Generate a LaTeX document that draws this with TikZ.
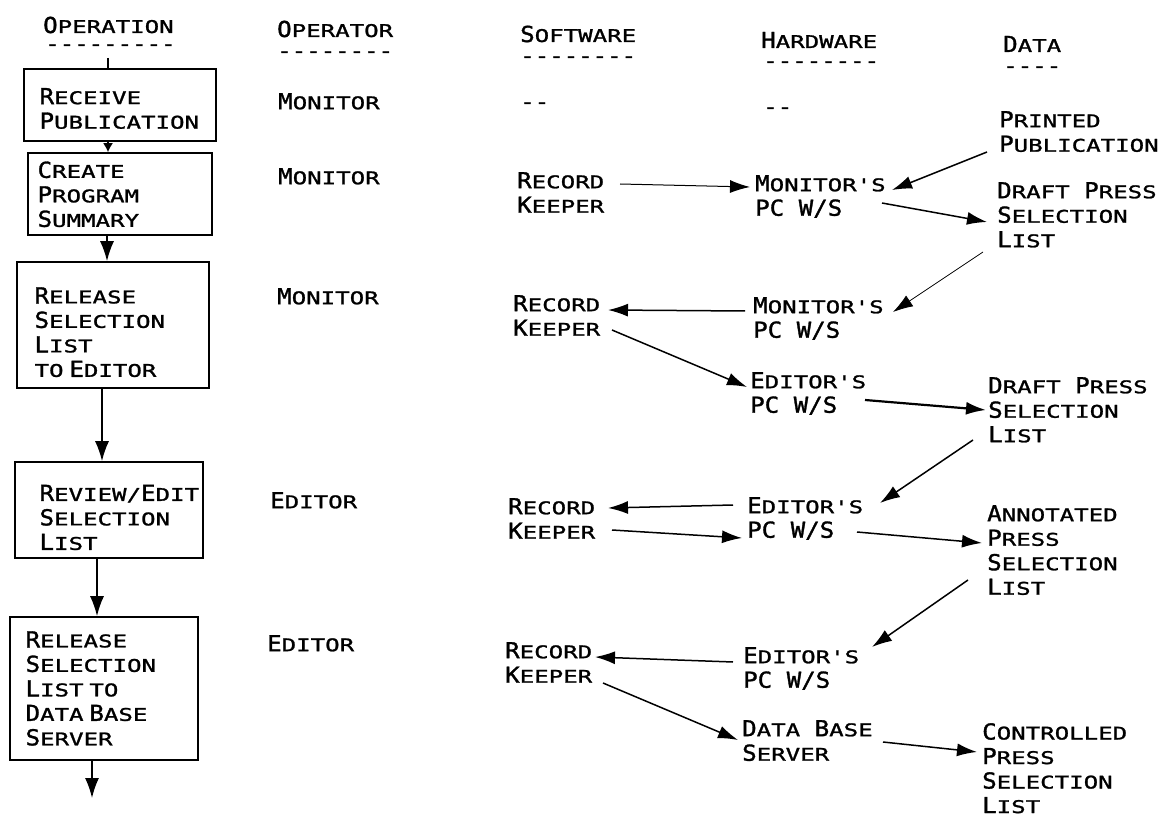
\documentclass[tikz,border=0pt]{standalone}
\usepackage{fontspec}
\usetikzlibrary{arrows.meta}
\newfontfamily\plotsm[FakeStretch=1.376,FakeBold=1.4]{DejaVu Sans Mono}
\newfontfamily\plotbg[FakeStretch=1.095,FakeBold=1.4]{DejaVu Sans Mono}
\newcommand\bc[1]{{\plotbg\fontsize{22}{24.5}\selectfont #1}}
\newcommand\txtfont{\plotsm\fontsize{17.5}{24.5}\selectfont}
\tikzset{
  txt/.style={inner sep=0pt, anchor=north west, align=left, font=\txtfont},
  hdr/.style={inner sep=0pt, anchor=base west, font=\txtfont},
  opbox/.style={draw, line width=1.6pt, align=left, font=\txtfont, inner ysep=0pt},
  flow/.style={line width=1.6pt, -{Latex[length=20pt,width=14pt]}},
  flowsmall/.style={line width=1.6pt, -{Latex[length=9pt,width=10pt]}},
  link/.style={line width=1.5pt, -{Latex[length=20pt,width=13pt]}},
  thinlink/.style={link, line width=1pt},
  hairlink/.style={link, line width=0.8pt},
  thicklink/.style={link, line width=2.2pt},
}
\begin{document}
\begin{tikzpicture}[x=1pt,y=-1pt]
\path[use as bounding box] (0,0) rectangle (1165,818);

% headers
\node[hdr] (hOpn) at (43,33) {\bc{O}PERATION};
\node[hdr] (dOpn) at (45,50) {-{}-{}-{}-{}-{}-{}-{}-{}-};
\node[hdr] (hOpr) at (277,37) {\bc{O}PERATOR};
\node[hdr] (dOpr) at (277,57) {-{}-{}-{}-{}-{}-{}-{}-};
\node[hdr] (hSw) at (520,42) {\bc{S}OFTWARE};
\node[hdr] (dSw) at (520,62) {-{}-{}-{}-{}-{}-{}-{}-};
\node[hdr] (hHw) at (761,48) {\bc{H}ARDWARE};
\node[hdr] (dHw) at (763,67) {-{}-{}-{}-{}-{}-{}-{}-};
\node[hdr] (hDt) at (1003,52) {\bc{D}ATA};
\node[hdr] (dDt) at (1003,72) {-{}-{}-{}-};

% operation boxes
\node[opbox, minimum width=192pt, minimum height=72pt, inner xsep=15.6pt, text width=160.8pt] (b1) at (120,105)
  {\baselineskip=23pt\relax\rule{0pt}{23pt}\bc{R}ECEIVE\\\bc{P}UBLICATION};
\node[opbox, minimum width=184pt, minimum height=82pt, inner xsep=9.6pt, text width=164.8pt] (b2) at (120,194)
  {\rule{0pt}{17pt}\bc{C}REATE\\\bc{P}ROGRAM\\\bc{S}UMMARY};
\node[opbox, minimum width=192pt, minimum height=126pt, inner xsep=17.6pt, text width=156.8pt] (b3) at (113,325)
  {\rule{0pt}{30.5pt}\bc{R}ELEASE\\\bc{S}ELECTION\\\bc{L}IST\\TO \bc{E}DITOR};
\node[opbox, minimum width=188pt, minimum height=96pt, inner xsep=24.6pt, text width=138.8pt] (b4) at (109,510)
  {\rule{0pt}{31pt}\bc{R}EVIEW/\bc{E}DIT\\\bc{S}ELECTION\\\bc{L}IST};
\node[opbox, minimum width=188pt, minimum height=143pt, inner xsep=15.6pt, text width=156.8pt] (b5) at (104,688.5)
  {\bc{R}ELEASE\\\bc{S}ELECTION\\\bc{L}IST TO\\\bc{D}ATA \bc{B}ASE\\\bc{S}ERVER};

\coordinate (c0) at (108,58);
\coordinate (c1) at (92,798);
\draw[line width=1.6pt] (c0) -- (c0 |- b1.north);
\draw[flowsmall] ([xshift=-12pt]b1.south) -- ([xshift=-12pt]b1.south |- b2.north);
\draw[flow] ([xshift=-13pt]b2.south) -- ([xshift=-13pt]b2.south |- b3.north);
\draw[flow] ([xshift=-11pt]b3.south) -- ([xshift=-11pt]b3.south |- b4.north);
\draw[flow] ([xshift=-12pt]b4.south) -- ([xshift=-12pt]b4.south |- b5.north);
\draw[flow] (c1 |- b5.south) -- (c1);

% operators
\node[txt] (op1) at (278,93) {\bc{M}ONITOR};
\node[txt] (op2) at (278,168) {\bc{M}ONITOR};
\node[txt] (op3) at (277,288) {\bc{M}ONITOR};
\node[txt] (op4) at (270,492) {\bc{E}DITOR};
\node[txt] (op5) at (267,635) {\bc{E}DITOR};

% row 1 placeholders
\node[hdr] (sw0) at (520,108) {-{}-};
\node[hdr] (hw0) at (763,113) {-{}-};

% software / hardware / data
\node[txt] (pp) at (999,111) {\bc{P}RINTED\\\bc{P}UBLICATION};
\node[txt] (rk1) at (517,172) {\bc{R}ECORD\\\bc{K}EEPER};
\node[txt] (mon1) at (755,175) {\bc{M}ONITOR'S\\\bc{PC W/S}};
\node[txt] (dl1) at (997,182) {\bc{D}RAFT \bc{P}RESS\\\bc{S}ELECTION\\\bc{L}IST};
\node[txt] (rk2) at (513,295) {\bc{R}ECORD\\\bc{K}EEPER};
\node[txt] (mon2) at (753,297) {\bc{M}ONITOR'S\\\bc{PC W/S}};
\node[txt] (ed1) at (750,372) {\bc{E}DITOR'S\\\bc{PC W/S}};
\node[txt] (dl2) at (988,377) {\bc{D}RAFT \bc{P}RESS\\\bc{S}ELECTION\\\bc{L}IST};
\node[txt] (rk3) at (508,498) {\bc{R}ECORD\\\bc{K}EEPER};
\node[txt] (ed2) at (747,497) {\bc{E}DITOR'S\\\bc{PC W/S}};
\node[txt] (ann) at (987,505) {\bc{A}NNOTATED\\\bc{P}RESS\\\bc{S}ELECTION\\\bc{L}IST};
\node[txt] (rk4) at (505,642) {\bc{R}ECORD\\\bc{K}EEPER};
\node[txt] (ed3) at (743,647) {\bc{E}DITOR'S\\\bc{PC W/S}};
\node[txt] (dbs) at (742,720) {\bc{D}ATA \bc{B}ASE\\\bc{S}ERVER};
\node[txt] (cps) at (982,723) {\bc{C}ONTROLLED\\\bc{P}RESS\\\bc{S}ELECTION\\\bc{L}IST};

% connectors
\draw[thinlink] ([shift={(103,12)}]rk1.north west) -- ([shift={(-5,12)}]mon1.north west);
\draw[link] ([shift={(-12,41)}]pp.north west) -- ([shift={(137,15)}]mon1.north west);
\draw[link] ([shift={(127,28)}]mon1.north west) -- ([shift={(-10,40)}]dl1.north west);
\draw[hairlink] ([shift={(-14,70)}]dl1.north west) -- ([shift={(140,15)}]mon2.north west);
\draw[link] ([shift={(-8,14)}]mon2.north west) -- ([shift={(95,15)}]rk2.north west);
\draw[link] ([shift={(99,35)}]rk2.north west) -- ([shift={(-3,15)}]ed1.north west);
\draw[thicklink] ([shift={(115,28)}]ed1.north west) -- ([shift={(-2,33)}]dl2.north west);
\draw[link] ([shift={(-15,63)}]dl2.north west) -- ([shift={(133,6)}]ed2.north west);
\draw[link] ([shift={(-14,8)}]ed2.north west) -- ([shift={(100,10)}]rk3.north west);
\draw[link] ([shift={(104,32)}]rk3.north west) -- ([shift={(-5,41)}]ed2.north west);
\draw[link] ([shift={(110,35)}]ed2.north west) -- ([shift={(-5,38)}]ann.north west);
\draw[link] ([shift={(-19,75)}]ann.north west) -- ([shift={(129,0)}]ed3.north west);
\draw[link] ([shift={(-10,15)}]ed3.north west) -- ([shift={(90,15)}]rk4.north west);
\draw[link] ([shift={(98,41)}]rk4.north west) -- ([shift={(-4,20)}]dbs.north west);
\draw[link] ([shift={(141,22)}]dbs.north west) -- ([shift={(-5,29)}]cps.north west);
\end{tikzpicture}
\end{document}
